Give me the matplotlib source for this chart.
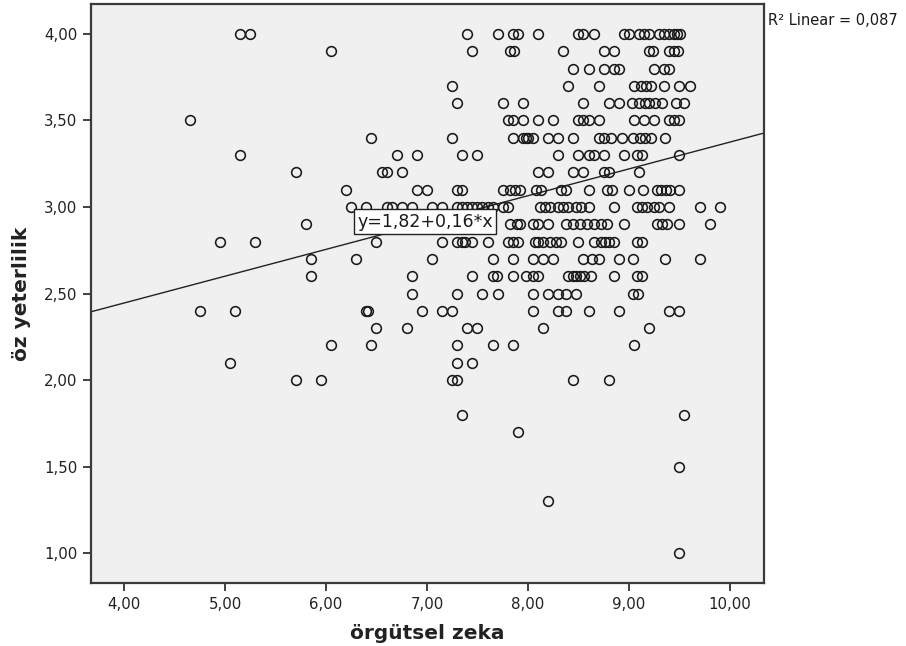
import matplotlib
matplotlib.use("Agg")
import matplotlib.pyplot as plt
import numpy as np

# x values (örgütsel zeka) for each öz yeterlilik level
row_400 = [5.15, 5.25, 7.40, 7.70, 7.85, 7.90, 8.10, 8.50, 8.55, 8.65, 8.95, 9.00,
           9.10, 9.15, 9.20, 9.30, 9.35, 9.40, 9.45, 9.48, 9.51]
row_390 = [6.05, 7.45, 7.82, 7.86, 8.35, 8.75, 8.85, 9.20, 9.24, 9.40, 9.45, 9.49]
row_380 = [8.45, 8.60, 8.75, 8.85, 8.90, 9.25, 9.35, 9.40]
row_370 = [7.25, 8.40, 8.70, 9.05, 9.12, 9.17, 9.22, 9.35, 9.50, 9.60]
row_360 = [7.30, 7.75, 7.95, 8.55, 8.80, 8.90, 9.03, 9.10, 9.16, 9.20, 9.26, 9.33,
           9.47, 9.55]
row_350 = [4.65, 7.80, 7.85, 7.95, 8.10, 8.25, 8.50, 8.55, 8.60, 8.70, 9.05, 9.15,
           9.25, 9.40, 9.45, 9.50]
row_340 = [6.45, 7.25, 7.85, 7.95, 7.98, 8.00, 8.05, 8.20, 8.30, 8.45, 8.70, 8.75,
           8.82, 8.93, 9.04, 9.11, 9.16, 9.22, 9.36]
row_330 = [5.15, 6.70, 6.90, 7.35, 7.50, 8.30, 8.50, 8.60, 8.65, 8.75, 8.95, 9.08,
           9.13, 9.50]
row_320 = [5.70, 6.55, 6.60, 6.75, 8.10, 8.20, 8.45, 8.55, 8.75, 8.80, 9.10]
row_310 = [6.20, 6.90, 7.00, 7.30, 7.35, 7.75, 7.82, 7.87, 7.92, 8.08, 8.13, 8.33,
           8.38, 8.60, 8.78, 8.83, 9.00, 9.14, 9.28, 9.32, 9.37, 9.41, 9.50]
row_300 = [6.25, 6.40, 6.60, 6.65, 6.75, 6.85, 7.05, 7.15, 7.30, 7.35, 7.40, 7.45,
           7.50, 7.55, 7.60, 7.65, 7.75, 7.80, 8.12, 8.17, 8.22, 8.30, 8.35, 8.40,
           8.48, 8.53, 8.60, 8.85, 9.08, 9.13, 9.18, 9.25, 9.30, 9.40, 9.70, 9.90]
row_290 = [5.80, 7.82, 7.89, 7.92, 8.05, 8.10, 8.20, 8.38, 8.45, 8.52, 8.58, 8.65,
           8.72, 8.78, 8.95, 9.28, 9.33, 9.38, 9.50, 9.80]
row_280 = [4.95, 5.30, 6.50, 7.15, 7.30, 7.35, 7.38, 7.45, 7.60, 7.80, 7.85, 7.90,
           8.07, 8.10, 8.15, 8.22, 8.28, 8.33, 8.50, 8.65, 8.72, 8.76, 8.80, 8.85,
           9.08, 9.13]
row_270 = [5.85, 6.30, 7.05, 7.65, 7.85, 8.05, 8.15, 8.25, 8.55, 8.63, 8.70, 8.90,
           9.04, 9.36, 9.70]
row_260 = [5.85, 6.85, 7.45, 7.65, 7.69, 7.85, 7.98, 8.05, 8.10, 8.40, 8.45, 8.48,
           8.52, 8.56, 8.62, 8.85, 9.08, 9.13]
row_250 = [6.85, 7.30, 7.55, 7.70, 8.05, 8.20, 8.30, 8.38, 8.48, 9.04, 9.09]
row_240 = [4.75, 5.10, 6.40, 6.42, 6.95, 7.15, 7.25, 8.05, 8.30, 8.38, 8.60, 8.90,
           9.40, 9.50]
row_230 = [6.50, 6.80, 7.40, 7.50, 8.15, 9.20]
row_220 = [6.05, 6.45, 7.30, 7.65, 7.85, 9.05]
row_210 = [5.05, 7.30, 7.45]
row_200 = [5.70, 5.95, 7.25, 7.30, 8.45, 8.80]
row_180 = [7.35, 9.55]
row_170 = [7.90]
row_150 = [9.50]
row_130 = [8.20]
row_100 = [9.50]

y_levels = [4.0, 3.9, 3.8, 3.7, 3.6, 3.5, 3.4, 3.3, 3.2, 3.1, 3.0, 2.9, 2.8, 2.7,
            2.6, 2.5, 2.4, 2.3, 2.2, 2.1, 2.0, 1.8, 1.7, 1.5, 1.3, 1.0]
rows = [row_400, row_390, row_380, row_370, row_360, row_350, row_340, row_330,
        row_320, row_310, row_300, row_290, row_280, row_270, row_260, row_250,
        row_240, row_230, row_220, row_210, row_200, row_180, row_170, row_150,
        row_130, row_100]

fit_intercept = 1.825
fit_slope = 0.155
fit_label = "y=1,82+0,16*x"
r2_label = "R² Linear = 0,087"

x_ticks = [4, 5, 6, 7, 8, 9, 10]
y_ticks = [1.0, 1.5, 2.0, 2.5, 3.0, 3.5, 4.0]

xs = np.concatenate([np.array(r, dtype=float) for r in rows])
ys = np.concatenate([np.full(len(r), yv) for r, yv in zip(rows, y_levels)])

fig = plt.figure(figsize=(9.06, 6.46), dpi=100)
fig.patch.set_facecolor("white")
ax = fig.add_axes([0.1004, 0.0975, 0.7428, 0.8963])
ax.set_facecolor("#f0f0f0")

xlim = (3.673, 10.337)
ylim = (0.827, 4.173)
ax.set_xlim(*xlim)
ax.set_ylim(*ylim)

lx = np.array(xlim)
ax.plot(lx, fit_intercept + fit_slope * lx, color="#222222", lw=1.0, zorder=2)

ax.plot(xs, ys, linestyle="none", marker="o", ms=7.0, mfc="none",
        mec="#1a1a1a", mew=1.15, zorder=3)

ax.text(6.98, 2.915, fit_label, ha="center", va="center", fontsize=12.5,
        color="#1a1a1a", zorder=5,
        bbox=dict(boxstyle="square,pad=0.2", fc="white", ec="#222222", lw=1.0))

fig.text(0.8477, 0.969, r2_label, ha="left", va="center", fontsize=10.5,
         color="#1a1a1a")

ax.set_xticks(x_ticks)
ax.set_xticklabels([f"{v:.2f}".replace(".", ",") for v in x_ticks])
ax.set_yticks(y_ticks)
ax.set_yticklabels([f"{v:.2f}".replace(".", ",") for v in y_ticks])
ax.tick_params(direction="out", length=6, width=1.3, color="#333333",
               labelsize=10.8, labelcolor="#222222", pad=4)

for s in ax.spines.values():
    s.set_color("#3a3a3a")
    s.set_linewidth(1.6)

ax.set_xlabel("örgütsel zeka", fontsize=14.5, fontweight="bold", color="#222222",
              labelpad=9)
ax.set_ylabel("öz yeterlilik", fontsize=14.5, fontweight="bold", color="#222222",
              labelpad=9)

fig.savefig("out.png", dpi=100)
